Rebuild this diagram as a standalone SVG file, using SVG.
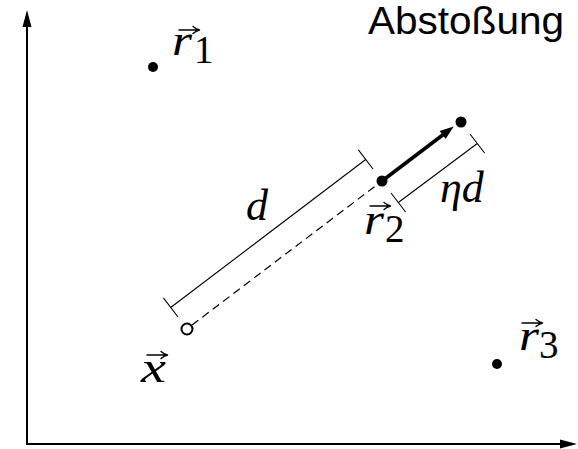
<svg xmlns="http://www.w3.org/2000/svg" width="578" height="449" viewBox="0 0 578 449">
<style>
.ax{stroke:#000;stroke-width:2;fill:none}
.thin{stroke:#000;stroke-width:1.1;fill:none}
.dash{stroke:#000;stroke-width:1.2;fill:none;stroke-dasharray:8 5}
.dot{fill:#000}
.m{font-family:"Liberation Serif","Times New Roman",serif;font-style:italic;font-size:44px;fill:#000}
.n{font-family:"Liberation Serif","Times New Roman",serif;font-style:normal;font-size:39px;fill:#000}
.t{font-family:"Liberation Sans",Arial,sans-serif;font-size:38px;fill:#000}
.vec{stroke:#000;stroke-width:1.4;fill:none;stroke-linecap:round;stroke-linejoin:round}
</style>
<defs>
<path id="vec" d="M0 0 H20 M14 -3.5 Q17 -1 20.5 0 Q17 1 14 3.5" class="vec"/>
</defs>
<rect width="578" height="449" fill="#fff"/>
<g id="axes">
<path class="ax" d="M27 444 V24"/>
<path d="M27 10 L31.5 27 L22.5 27 Z" fill="#000"/>
<path class="ax" d="M26 444 H562"/>
<path d="M577 444 L560 439.5 L560 448.5 Z" fill="#000"/>
</g>
<g id="connectors">
<path class="dash" d="M192 325 L382 181"/>
<path class="thin" d="M170.7 307.5 L365.7 159.5 M163.4 297.9 L178 317 M358.4 149.9 L373 169"/>
<path class="thin" d="M398.3 202.5 L477.3 143.5 M391 193 L405.6 212 M470 134 L484.6 153"/>
<path d="M382 181 L444 134" stroke="#000" stroke-width="3.6" fill="none"/>
<path d="M453.7 126.5 L445.6 139 L442.6 135 L439.6 131 Z" fill="#000"/>
</g>
<g id="r1">
<circle class="dot" cx="153" cy="67" r="5"/>
<text class="m" x="172" y="55" textLength="20" lengthAdjust="spacingAndGlyphs">r</text>
<text class="n" x="194" y="63">1</text>
<use href="#vec" x="179" y="30"/>
</g>
<g id="r2">
<circle class="dot" cx="382" cy="181" r="5.5"/>
<text class="m" x="364" y="234" textLength="20" lengthAdjust="spacingAndGlyphs">r</text>
<text class="n" x="385" y="242">2</text>
<use href="#vec" x="370" y="206"/>
</g>
<g id="target">
<circle class="dot" cx="461" cy="122" r="5.5"/>
</g>
<g id="r3">
<circle class="dot" cx="497" cy="364" r="5"/>
<text class="m" x="519" y="350" textLength="20" lengthAdjust="spacingAndGlyphs">r</text>
<text class="n" x="539" y="358">3</text>
<use href="#vec" x="522" y="323"/>
</g>
<g id="x">
<circle cx="187" cy="329" r="5.5" fill="#fff" stroke="#000" stroke-width="2"/>
<text class="m" x="141" y="382" textLength="25" lengthAdjust="spacingAndGlyphs">x</text>
<use href="#vec" x="147" y="355"/>
</g>
<g id="labels">
<text class="m" x="246" y="220" font-size="45">d</text>
<text class="m" x="440" y="202" font-size="45">ηd</text>
<text class="t" x="368" y="34" textLength="196" lengthAdjust="spacingAndGlyphs">Abstoßung</text>
</g>
</svg>
